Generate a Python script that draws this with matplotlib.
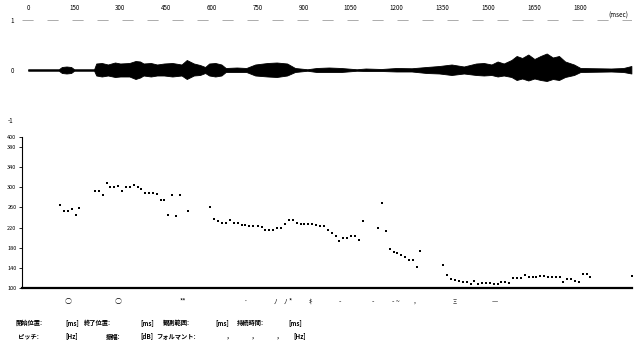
import matplotlib
matplotlib.use("Agg")
import matplotlib.pyplot as plt

plt.rcParams['font.family'] = ['Noto Sans CJK JP', 'DejaVu Sans']

# pitch track (ms, Hz)
pitch_t = [104, 117, 131, 144, 156, 167, 218, 231, 245, 257, 268, 281, 294, 306, 319,
           333, 345, 358, 369, 381, 394, 408, 421, 433, 444, 456, 470, 482, 495, 521,
           594, 607, 620, 633, 645, 659, 672, 684, 697, 708, 721, 734, 748, 761, 773,
           786, 798, 811, 824, 836, 849, 862, 875, 888, 900, 913, 926, 939, 951, 964,
           976, 989, 1002, 1014, 1027, 1040, 1052, 1065, 1077, 1090, 1139, 1152, 1166,
           1178, 1191, 1202, 1215, 1227, 1240, 1253, 1266, 1277, 1352, 1366, 1379, 1392,
           1404, 1417, 1430, 1442, 1454, 1467, 1480, 1492, 1504, 1517, 1530, 1542, 1555,
           1568, 1581, 1593, 1606, 1618, 1631, 1644, 1656, 1669, 1682, 1694, 1707, 1719,
           1732, 1743, 1756, 1769, 1782, 1794, 1807, 1820, 1831, 1968]
pitch_hz = [264, 252, 252, 256, 246, 259, 292, 292, 284, 308, 301, 301, 302, 292, 301,
            301, 305, 301, 297, 288, 288, 288, 286, 274, 274, 246, 284, 244, 284, 252,
            260, 237, 234, 230, 230, 235, 229, 229, 226, 226, 223, 223, 223, 221, 216,
            216, 216, 220, 220, 228, 235, 235, 230, 228, 228, 228, 228, 225, 223, 223,
            215, 209, 204, 194, 200, 200, 204, 204, 195, 233, 219, 268, 213,
            177, 172, 170, 165, 162, 155, 155, 142, 173, 145, 125, 117, 116,
            114, 112, 112, 108, 114, 107, 109, 110, 109, 108, 107, 112, 112,
            109, 120, 120, 120, 125, 122, 122, 122, 124, 124, 122, 121, 121,
            121, 111, 118, 118, 114, 112, 128, 128, 122, 124]

# waveform envelope (ms, upper, lower)
env_t = [0, 100, 110, 125, 140, 150, 215, 222, 240, 260, 283, 300, 330, 350, 365, 376,
         400, 420, 443, 470, 500, 517, 540, 560, 577, 590, 610, 630, 644, 680, 711, 740,
         780, 810, 844, 870, 910, 940, 980, 1020, 1071, 1100, 1151, 1200, 1250, 1298,
         1340, 1380, 1420, 1460, 1485, 1510, 1530, 1550, 1575, 1592, 1610, 1630, 1650,
         1670, 1690, 1710, 1730, 1750, 1779, 1800, 1850, 1900, 1940, 1966]
env_hi = [0.015, 0.015, 0.06, 0.07, 0.06, 0.015, 0.015, 0.13, 0.14, 0.11, 0.15, 0.13,
          0.14, 0.18, 0.17, 0.13, 0.14, 0.11, 0.13, 0.14, 0.11, 0.20, 0.13, 0.10, 0.06,
          0.13, 0.14, 0.11, 0.04, 0.05, 0.04, 0.11, 0.14, 0.15, 0.13, 0.04, 0.015, 0.04,
          0.05, 0.04, 0.015, 0.03, 0.02, 0.04, 0.035, 0.06, 0.08, 0.11, 0.07, 0.13, 0.14,
          0.11, 0.17, 0.13, 0.20, 0.28, 0.24, 0.31, 0.22, 0.28, 0.33, 0.25, 0.28, 0.17,
          0.11, 0.04, 0.035, 0.03, 0.04, 0.08]
env_lo = [0.015, 0.015, 0.06, 0.07, 0.06, 0.015, 0.015, 0.11, 0.13, 0.11, 0.14, 0.13,
          0.13, 0.18, 0.15, 0.11, 0.13, 0.11, 0.11, 0.13, 0.11, 0.18, 0.11, 0.10, 0.06,
          0.11, 0.13, 0.11, 0.04, 0.04, 0.04, 0.11, 0.13, 0.14, 0.11, 0.04, 0.015, 0.04,
          0.04, 0.04, 0.015, 0.02, 0.02, 0.03, 0.03, 0.06, 0.07, 0.10, 0.07, 0.10, 0.11,
          0.10, 0.13, 0.11, 0.14, 0.20, 0.17, 0.21, 0.17, 0.20, 0.22, 0.18, 0.20, 0.14,
          0.10, 0.04, 0.035, 0.03, 0.04, 0.07]

time_ticks = [0, 150, 300, 450, 600, 750, 900, 1050, 1200, 1350, 1500, 1650, 1800]
hz_ticks = [100, 140, 180, 220, 260, 300, 340, 380, 400]

W, H = 640, 342
fig = plt.figure(figsize=(6.4, 3.42), dpi=100)
XMIN, XMAX = -20, 1968

def fx(px):
    return px / W

def fy(py):
    return 1 - py / H

# === waveform ===
axw = fig.add_axes([fx(22), fy(120), fx(632 - 22), (120 - 20) / H])
axw.fill_between(env_t, env_hi, [-v for v in env_lo], color='black', lw=0.6)
axw.plot([XMIN, XMAX], [1, 1], color='0.55', lw=0.5, dashes=(16, 20))
axw.plot([XMIN, XMAX], [-1, -1], color='0.5', lw=0.6, dashes=(14, 16))
axw.set_xlim(XMIN, XMAX)
axw.set_ylim(-1, 1)
for s in axw.spines.values():
    s.set_visible(False)
axw.set_yticks([-1, 0, 1])
axw.set_yticklabels(['-1', '0', '1'], fontsize=4.5)
axw.tick_params(axis='y', length=0, pad=6)
axw.xaxis.tick_top()
axw.set_xticks(time_ticks)
axw.set_xticklabels([str(t) for t in time_ticks], fontsize=4.5)
axw.tick_params(axis='x', length=0, pad=6)
fig.text(fx(618), fy(16), '(msec)', fontsize=4.5, ha='center', va='center')

# === pitch ===
axp = fig.add_axes([fx(22), fy(288), fx(632 - 22), (288 - 137) / H])
axp.scatter(pitch_t, pitch_hz, s=2.5, color='black', marker='s', lw=0)
axp.set_xlim(XMIN, XMAX)
axp.set_ylim(100, 400)
axp.spines['top'].set_visible(False)
axp.spines['right'].set_visible(False)
axp.spines['left'].set_linewidth(0.8)
axp.spines['bottom'].set_linewidth(1.6)
axp.set_xticks([])
axp.set_yticks(hz_ticks)
axp.set_yticklabels([str(v) for v in hz_ticks], fontsize=4)
axp.tick_params(axis='y', length=2, width=0.6, pad=2)

# symbol row under the pitch track
marks = [(68, '○'), (118, '○'), (183, '**'), (245, '·'), (275, 'ﾉ'), (288, 'ﾉ *'),
         (310, 'ｷ'), (340, '-'), (373, '-'), (396, '- ~'), (415, ','), (455, 'Ξ'), (495, '—')]
for px, m in marks:
    fig.text(fx(px), fy(302), m, fontsize=5, ha='center', va='center')

# info lines
line1 = [(15, '開始位置:'), (65, '[ms]'), (84, '終了位置:'), (140, '[ms]'),
         (163, '観測範囲:'), (215, '[ms]'), (237, '持続時間:'), (288, '[ms]')]
line2 = [(18, 'ピッチ:'), (65, '[Hz]'), (106, '振幅:'), (140, '[dB]'),
         (156, 'フォルマント:'), (227, ','), (252, ','), (277, ','), (293, '[Hz]')]
for px, s in line1:
    fig.text(fx(px), fy(323), s, fontsize=4.5, ha='left', va='center', weight='bold')
for px, s in line2:
    fig.text(fx(px), fy(336), s, fontsize=4.5, ha='left', va='center', weight='bold')

fig.savefig('out.png', dpi=100, facecolor='white')
